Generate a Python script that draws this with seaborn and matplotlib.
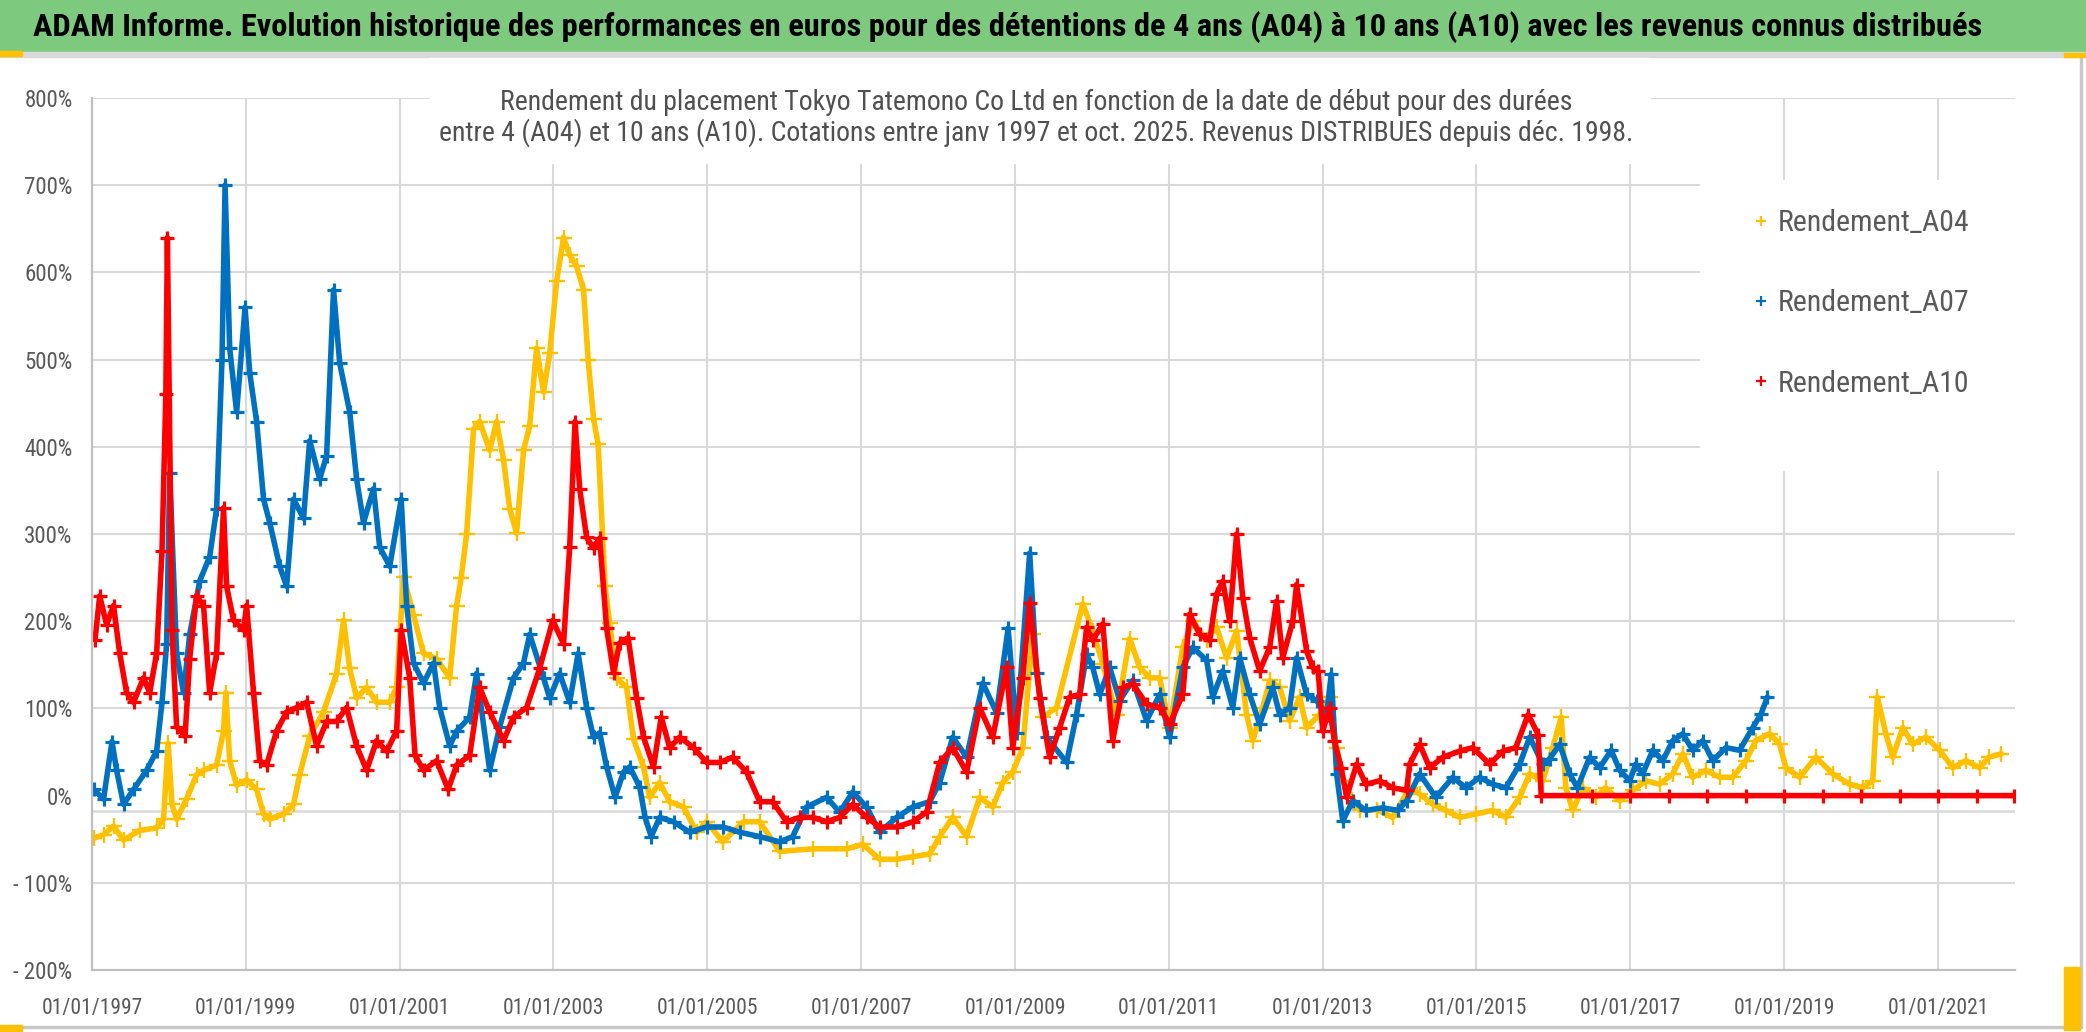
import matplotlib
matplotlib.use("Agg")
import matplotlib.pyplot as plt
import matplotlib.dates as mdates
from matplotlib.patches import Rectangle
from matplotlib.lines import Line2D
from matplotlib.ticker import FuncFormatter
import numpy as np
import pandas as pd
import seaborn as sns

# values: start date (decimal year) -> return in %
a04_years = [1997.02, 1997.15, 1997.28, 1997.41, 1997.62, 1997.84, 1997.93, 1997.99, 1998.04, 1998.10,
             1998.23, 1998.36, 1998.45, 1998.62, 1998.71, 1998.74, 1998.79, 1998.88, 1999.01, 1999.14,
             1999.23, 1999.31, 1999.49, 1999.62, 1999.70, 1999.83, 2000.01, 2000.18, 2000.27, 2000.35,
             2000.44, 2000.57, 2000.70, 2000.87, 2000.96, 2001.05, 2001.18, 2001.31, 2001.48, 2001.65,
             2001.74, 2001.80, 2001.87, 2001.96, 2002.04, 2002.17, 2002.26, 2002.35, 2002.43, 2002.52,
             2002.61, 2002.69, 2002.78, 2002.87, 2002.95, 2003.04, 2003.13, 2003.21, 2003.30, 2003.39,
             2003.45, 2003.52, 2003.58, 2003.67, 2003.73, 2003.82, 2003.95, 2004.04, 2004.17, 2004.25,
             2004.38, 2004.51, 2004.69, 2004.86, 2004.99, 2005.20, 2005.47, 2005.68, 2005.94, 2006.37,
             2006.81, 2007.02, 2007.24, 2007.46, 2007.67, 2007.89, 2008.02, 2008.19, 2008.37, 2008.54,
             2008.71, 2008.84, 2008.97, 2009.10, 2009.23, 2009.36, 2009.54, 2009.88, 2010.01, 2010.14,
             2010.32, 2010.49, 2010.62, 2010.75, 2010.88, 2011.01, 2011.18, 2011.31, 2011.49, 2011.62,
             2011.75, 2011.88, 2012.01, 2012.09, 2012.22, 2012.31, 2012.44, 2012.57, 2012.70, 2012.79,
             2012.96, 2013.09, 2013.18, 2013.26, 2013.48, 2013.70, 2013.91, 2014.13, 2014.26, 2014.43,
             2014.60, 2014.78, 2014.99, 2015.21, 2015.38, 2015.56, 2015.69, 2015.86, 2015.99, 2016.10,
             2016.16, 2016.25, 2016.38, 2016.55, 2016.68, 2016.86, 2017.03, 2017.20, 2017.38, 2017.55,
             2017.68, 2017.81, 2017.98, 2018.16, 2018.33, 2018.50, 2018.63, 2018.81, 2018.94, 2019.02,
             2019.20, 2019.41, 2019.63, 2019.85, 2020.02, 2020.15, 2020.21, 2020.32, 2020.41, 2020.54,
             2020.67, 2020.84, 2021.02, 2021.19, 2021.36, 2021.54, 2021.66, 2021.82]
a04_values = [-49, -45, -35, -51, -40, -37, -27, 60, -10, -27,
              -4, 24, 29, 35, 74, 118, 40, 12, 18, 7,
              -21, -27, -21, -10, 24, 68, 96, 140, 201, 146,
              112, 124, 107, 107, 124, 251, 207, 163, 157, 135,
              218, 250, 300, 420, 429, 396, 429, 385, 329, 301,
              396, 424, 513, 463, 507, 590, 640, 620, 607, 580,
              500, 432, 403, 240, 198, 135, 124, 65, 33, -2,
              15, -7, -13, -42, -30, -53, -30, -30, -64, -61,
              -61, -56, -73, -73, -70, -67, -47, -25, -47, -2,
              -13, 15, 27, 55, 185, 90, 101, 220, 189, 151,
              93, 180, 147, 135, 135, 78, 170, 200, 178, 193,
              158, 189, 93, 63, 101, 132, 124, 86, 113, 78,
              93, 113, 55, 17, -17, -16, -25, 9, 2, -10,
              -17, -25, -21, -17, -25, -2, 25, 17, 55, 90,
              9, -17, 9, -2, 9, -6, 6, 17, 13, 25,
              48, 21, 29, 21, 21, 40, 63, 71, 59, 32,
              21, 44, 25, 13, 9, 17, 113, 71, 44, 78,
              59, 67, 52, 32, 40, 32, 44, 48]

a07_years = [1997.02, 1997.15, 1997.26, 1997.32, 1997.41, 1997.54, 1997.71, 1997.84, 1997.91, 1997.97,
             1998.01, 1998.10, 1998.19, 1998.27, 1998.40, 1998.53, 1998.62, 1998.69, 1998.73, 1998.79,
             1998.88, 1998.99, 1999.05, 1999.14, 1999.23, 1999.31, 1999.44, 1999.53, 1999.62, 1999.75,
             1999.83, 1999.96, 2000.05, 2000.14, 2000.22, 2000.35, 2000.44, 2000.53, 2000.66, 2000.74,
             2000.87, 2001.02, 2001.09, 2001.18, 2001.31, 2001.44, 2001.52, 2001.65, 2001.74, 2001.91,
             2002.00, 2002.17, 2002.30, 2002.48, 2002.61, 2002.69, 2002.87, 2002.95, 2003.08, 2003.21,
             2003.32, 2003.43, 2003.52, 2003.60, 2003.69, 2003.80, 2003.91, 2003.99, 2004.12, 2004.19,
             2004.27, 2004.38, 2004.56, 2004.77, 2004.99, 2005.20, 2005.42, 2005.68, 2005.94, 2006.11,
             2006.29, 2006.55, 2006.72, 2006.89, 2007.07, 2007.24, 2007.46, 2007.67, 2007.89, 2008.02,
             2008.19, 2008.37, 2008.58, 2008.76, 2008.91, 2009.02, 2009.19, 2009.28, 2009.41, 2009.67,
             2009.80, 2009.93, 2010.01, 2010.10, 2010.23, 2010.36, 2010.53, 2010.71, 2010.88, 2011.01,
             2011.18, 2011.31, 2011.49, 2011.57, 2011.70, 2011.83, 2011.92, 2012.05, 2012.18, 2012.35,
             2012.44, 2012.57, 2012.66, 2012.79, 2012.92, 2013.05, 2013.11, 2013.18, 2013.26, 2013.39,
             2013.56, 2013.78, 2013.98, 2014.09, 2014.26, 2014.47, 2014.69, 2014.86, 2015.04, 2015.21,
             2015.38, 2015.56, 2015.69, 2015.86, 2015.95, 2016.08, 2016.21, 2016.31, 2016.47, 2016.60,
             2016.75, 2016.86, 2016.99, 2017.07, 2017.16, 2017.29, 2017.42, 2017.55, 2017.68, 2017.81,
             2017.94, 2018.07, 2018.24, 2018.42, 2018.59, 2018.70, 2018.78]
a07_values = [7, -4, 62, 29, -10, 7, 29, 51, 107, 174,
              370, 163, 118, 185, 246, 274, 329, 500, 700, 513,
              440, 560, 485, 429, 340, 313, 263, 240, 340, 318,
              407, 363, 390, 580, 496, 440, 363, 313, 352, 285,
              263, 340, 218, 152, 129, 152, 101, 57, 74, 90,
              140, 29, 79, 135, 152, 185, 135, 112, 140, 107,
              163, 101, 67, 72, 33, -2, 27, 33, 10, -25,
              -47, -25, -30, -42, -36, -36, -42, -47, -53, -47,
              -13, -2, -19, 4, -13, -42, -25, -13, -7, 15,
              67, 44, 129, 95, 192, 72, 278, 141, 67, 38,
              93, 162, 147, 116, 147, 109, 132, 86, 116, 67,
              147, 170, 155, 113, 143, 101, 158, 116, 82, 124,
              93, 101, 158, 116, 109, 93, 139, 25, -29, -6,
              -17, -14, -17, -6, 25, -2, 21, 9, 21, 13,
              9, 36, 67, 36, 42, 59, 25, 9, 44, 32,
              52, 29, 17, 36, 25, 52, 40, 63, 71, 52,
              63, 40, 55, 52, 78, 94, 113]

a10_years = [1997.04, 1997.10, 1997.19, 1997.28, 1997.36, 1997.45, 1997.54, 1997.67, 1997.75, 1997.84,
             1997.91, 1997.96, 1997.98, 1998.04, 1998.10, 1998.21, 1998.27, 1998.36, 1998.45, 1998.53,
             1998.62, 1998.71, 1998.75, 1998.84, 1998.97, 1999.01, 1999.10, 1999.18, 1999.27, 1999.40,
             1999.53, 1999.66, 1999.79, 1999.92, 2000.05, 2000.18, 2000.31, 2000.44, 2000.57, 2000.70,
             2000.83, 2000.96, 2001.02, 2001.13, 2001.20, 2001.31, 2001.48, 2001.63, 2001.74, 2001.91,
             2002.04, 2002.17, 2002.35, 2002.48, 2002.65, 2002.82, 2002.99, 2003.13, 2003.21, 2003.28,
             2003.34, 2003.43, 2003.52, 2003.60, 2003.69, 2003.78, 2003.86, 2003.97, 2004.08, 2004.17,
             2004.30, 2004.40, 2004.51, 2004.64, 2004.82, 2004.99, 2005.16, 2005.33, 2005.51, 2005.68,
             2005.85, 2006.03, 2006.20, 2006.37, 2006.55, 2006.72, 2006.89, 2007.07, 2007.24, 2007.46,
             2007.67, 2007.85, 2008.02, 2008.19, 2008.37, 2008.54, 2008.71, 2008.89, 2008.97, 2009.10,
             2009.19, 2009.32, 2009.45, 2009.58, 2009.71, 2009.84, 2009.93, 2010.01, 2010.14, 2010.27,
             2010.40, 2010.53, 2010.71, 2010.88, 2011.01, 2011.18, 2011.27, 2011.40, 2011.53, 2011.62,
             2011.70, 2011.79, 2011.88, 2011.96, 2012.05, 2012.18, 2012.31, 2012.40, 2012.48, 2012.61,
             2012.66, 2012.79, 2012.87, 2012.94, 2013.00, 2013.09, 2013.15, 2013.24, 2013.31, 2013.44,
             2013.56, 2013.74, 2013.91, 2014.09, 2014.13, 2014.26, 2014.39, 2014.56, 2014.78, 2014.95,
             2015.17, 2015.34, 2015.51, 2015.67, 2015.80,
             # no 10-year window left after oct. 2015: the sheet shows 0
             2015.84, 2016.5, 2017.0, 2017.5, 2018.0, 2018.5, 2019.0, 2019.5, 2020.0, 2020.5,
             2021.0, 2021.5, 2021.99]
a10_values = [179, 229, 196, 218, 163, 118, 107, 135, 118, 163,
              280, 460, 640, 190, 79, 68, 157, 229, 218, 118,
              163, 330, 240, 201, 190, 218, 118, 40, 35, 74,
              96, 101, 107, 57, 85, 85, 101, 57, 29, 63,
              51, 74, 190, 135, 46, 29, 40, 7, 35, 46,
              124, 96, 63, 90, 101, 146, 201, 174, 285, 429,
              352, 296, 284, 295, 192, 141, 175, 181, 112, 67,
              33, 90, 55, 67, 55, 38, 38, 44, 27, -7,
              -7, -30, -25, -25, -30, -25, -10, -25, -36, -36,
              -30, -19, 38, 55, 27, 101, 67, 147, 55, 135,
              221, 112, 44, 78, 113, 116, 193, 178, 197, 63,
              124, 128, 105, 101, 82, 116, 208, 185, 178, 231,
              246, 200, 300, 227, 181, 143, 170, 223, 158, 200,
              242, 166, 147, 143, 74, 101, 63, 32, -2, 36,
              13, 17, 9, 6, 36, 59, 32, 44, 51, 55,
              36, 51, 55, 93, 70,
              0, 0, 0, 0, 0, 0, 0, 0, 0, 0,
              0, 0, 0]

series_names = ["Rendement_A04", "Rendement_A07", "Rendement_A10"]
series_colors = ["#FFC000", "#0070C0", "#FF0000"]

title = ("ADAM Informe. Evolution historique des performances en euros pour des détentions "
         "de 4 ans (A04) à 10 ans (A10) avec les revenus connus distribués")
subtitle_1 = "Rendement du placement Tokyo Tatemono Co Ltd en fonction de la date de début pour des durées"
subtitle_2 = ("entre 4 (A04) et 10 ans (A10). Cotations entre janv 1997 et oct. 2025. "
              "Revenus DISTRIBUES depuis déc. 1998.")

y_ticks = list(range(-200, 801, 100))
x_ticks = pd.date_range("1997-01-01", "2021-01-01", freq="2YS")

GREY_TXT = "#595959"
GRID = "#D9D9D9"


def to_dates(years):
    years = np.asarray(years, dtype=float)
    return pd.Timestamp("1997-01-01") + pd.to_timedelta((years - 1997.0) * 365.25, unit="D")


def pct_label(v, _pos):
    if v < 0:
        return f"- {abs(v):.0f}%"
    return f"{v:.0f}%"


frames = []
for name, yrs, vals in zip(series_names,
                           [a04_years, a07_years, a10_years],
                           [a04_values, a07_values, a10_values]):
    frames.append(pd.DataFrame({"date": to_dates(yrs), "value": vals, "series": name}))
df = pd.concat(frames, ignore_index=True)

sns.set_theme(style="white")
plt.rcParams["font.family"] = ["Liberation Sans Narrow", "Roboto Condensed",
                               "DejaVu Sans Condensed", "DejaVu Sans"]

W, H = 2086, 1032
fig = plt.figure(figsize=(W / 100, H / 100), dpi=100)
fig.patch.set_facecolor("white")
ax = fig.add_axes([92 / W, 1 - 970 / H, (2015 - 92) / W, (970 - 98) / H])
ax.set_facecolor("white")

for name, color in zip(series_names, series_colors):
    sub = df[df["series"] == name]
    thin = name.endswith("A04")
    sns.lineplot(data=sub, x="date", y="value", color=color, ax=ax,
                 sort=False, estimator=None, legend=False,
                 lw=4.0, marker="+", markersize=11 if thin else 9.5,
                 markeredgewidth=1.7 if thin else 2.3, markeredgecolor=color)

ax.set_xlim(pd.Timestamp("1997-01-01"), pd.Timestamp("2022-01-01"))
ax.set_ylim(-200, 800)
ax.set_yticks(y_ticks)
ax.yaxis.set_major_formatter(FuncFormatter(pct_label))
ax.set_xticks(x_ticks)
ax.xaxis.set_major_formatter(mdates.DateFormatter("%d/%m/%Y"))
ax.set_xlabel("")
ax.set_ylabel("")

ax.grid(True, color=GRID, lw=1.5, zorder=0)
ax.set_axisbelow(True)
# the 0 % gridline is drawn a little lower in the original sheet
for tick, gl in zip(y_ticks, ax.get_ygridlines()):
    if tick == 0:
        gl.set_visible(False)
ax.axhline(-18, color=GRID, lw=1.8, zorder=0.5)

for side in ["top", "right"]:
    ax.spines[side].set_visible(False)
for side in ["left", "bottom"]:
    ax.spines[side].set_color("#BFBFBF")
    ax.spines[side].set_linewidth(1.6)

ax.tick_params(axis="x", length=0, pad=20, labelsize=15.5, labelcolor=GREY_TXT)
ax.tick_params(axis="y", length=0, pad=14, labelsize=16.5, labelcolor=GREY_TXT)

# sheet decoration: green title band and white boxes over the grid
fig.patches.append(Rectangle((0, 1 - 52 / H), 1, 52 / H, transform=fig.transFigure,
                             color="#7DC97E", zorder=1))
fig.patches.append(Rectangle((0, 1 - 57 / H), 1, 5 / H, transform=fig.transFigure,
                             color="#D9D9D9", zorder=1))
fig.patches.append(Rectangle((430 / W, 1 - 163 / H), 1220 / W, 105 / H, transform=fig.transFigure,
                             color="white", zorder=1))
fig.patches.append(Rectangle((1700 / W, 1 - 470 / H), 320 / W, 290 / H, transform=fig.transFigure,
                             color="white", zorder=1))
fig.patches.append(Rectangle((2080 / W, 1 - 1028 / H), 2 / W, 971 / H, transform=fig.transFigure,
                             color="#C8C8C8", zorder=1))
fig.patches.append(Rectangle((0, 1 - 1028 / H), 2080 / W, 2 / H, transform=fig.transFigure,
                             color="#C8C8C8", zorder=1))
fig.patches.append(Rectangle((0, 1 - 1031 / H), 22 / W, 6 / H, transform=fig.transFigure,
                             color="#FFC000", zorder=2))
fig.patches.append(Rectangle((0, 1 - 56 / H), 22 / W, 5 / H, transform=fig.transFigure,
                             color="#FFC000", zorder=2))
fig.patches.append(Rectangle((2064 / W, 1 - 1030 / H), 16 / W, 63 / H, transform=fig.transFigure,
                             color="#FFC000", zorder=2))
fig.patches.append(Rectangle((2064 / W, 1 - 57 / H), 22 / W, 4 / H, transform=fig.transFigure,
                             color="#FFC000", zorder=2))

fig.text(1008 / W, 1 - 27 / H, title, ha="center", va="center",
         fontsize=23.3, fontweight="bold", color="black", zorder=3)
fig.text(1036 / W, 1 - 102 / H, subtitle_1, ha="center", va="center",
         fontsize=20, color="#505050", zorder=3)
fig.text(1036 / W, 1 - 133 / H, subtitle_2, ha="center", va="center",
         fontsize=20, color="#505050", zorder=3)

handles = [Line2D([], [], ls="none", marker="+", color=c, markersize=7, markeredgewidth=1.6)
           for c in series_colors]
fig.legend(handles, series_names, loc="upper left", bbox_to_anchor=(1752 / W, 1 - 209 / H),
           bbox_transform=fig.transFigure, frameon=False, fontsize=21.5,
           labelcolor=GREY_TXT, handlelength=0.6, handletextpad=0.25,
           labelspacing=1.75, borderpad=0, borderaxespad=0)

fig.savefig("out.png", dpi=100, facecolor="white")
plt.close(fig)
